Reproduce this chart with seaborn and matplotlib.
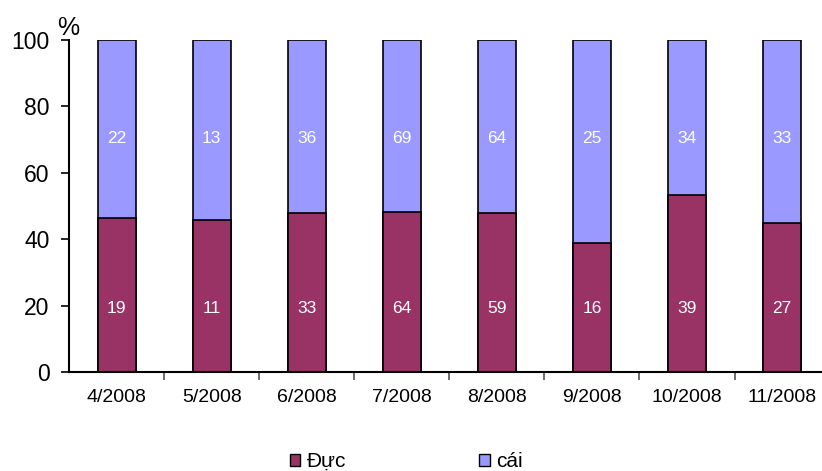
import numpy as np
import pandas as pd
import matplotlib
matplotlib.use("Agg")
import matplotlib.pyplot as plt
import seaborn as sns
from matplotlib.patches import Patch

# === data ===
months = ["4/2008", "5/2008", "6/2008", "7/2008", "8/2008", "9/2008", "10/2008", "11/2008"]
duc = [19, 11, 33, 64, 59, 16, 39, 27]    # male counts
cai = [22, 13, 36, 69, 64, 25, 34, 33]    # female counts

df = pd.DataFrame({"month": months, "duc": duc, "cai": cai})
df["total"] = df["duc"] + df["cai"]
df["duc_pct"] = df["duc"] / df["total"] * 100
df["all_pct"] = 100.0

sns.set_style("white")
plt.rcParams["font.family"] = ["Liberation Sans", "DejaVu Sans"]
plt.rcParams["text.color"] = "black"
plt.rcParams["xtick.color"] = "black"
plt.rcParams["ytick.color"] = "black"

c_duc = "#993366"
c_cai = "#9999FF"

fig = plt.figure(figsize=(8.22, 4.71), dpi=100)
ax = fig.add_axes([0.084, 0.21, 0.916, 0.705])

sns.barplot(data=df, x="month", y="all_pct", color=c_cai, width=0.4,
            edgecolor="black", linewidth=1.2, saturation=1, ax=ax)
sns.barplot(data=df, x="month", y="duc_pct", color=c_duc, width=0.4,
            edgecolor="black", linewidth=1.2, saturation=1, ax=ax)

# count labels inside bars
for i, row in df.iterrows():
    ax.text(i, 19.2, str(row["duc"]), ha="center", va="center", color="white", fontsize=12.5)
    ax.text(i, 70.3, str(row["cai"]), ha="center", va="center", color="white", fontsize=12.5)

ax.set_xlim(-0.5, 7.42)
ax.set_ylim(0, 100)
ax.set_yticks([0, 20, 40, 60, 80, 100])
ax.tick_params(axis="y", labelsize=16.5, length=6, width=1.2, direction="out", left=True, pad=8)
ax.tick_params(axis="x", which="major", length=0, labelsize=14, pad=12)
ax.set_xticks(np.arange(0.5, 7.5, 1.0), minor=True)
ax.tick_params(axis="x", which="minor", length=6, width=1.2, direction="out", bottom=True, color="#555555")
ax.set_xlabel("")
ax.set_ylabel("")

for side in ["top", "right"]:
    ax.spines[side].set_visible(False)
for side in ["left", "bottom"]:
    ax.spines[side].set_color("black")
    ax.spines[side].set_linewidth(1.5)

fig.text(0.069, 0.94, "%", fontsize=18, ha="left", va="center")

handles = [Patch(facecolor=c_duc, edgecolor="black", label="Đực"),
           Patch(facecolor=c_cai, edgecolor="black", label="cái")]
fig.legend(handles=handles, loc="center", bbox_to_anchor=(0.494, 0.02), ncol=2, frameon=False,
           fontsize=15, handlelength=0.5, handleheight=0.5, handletextpad=0.3, columnspacing=6.4)

fig.savefig("out.png", dpi=100)
